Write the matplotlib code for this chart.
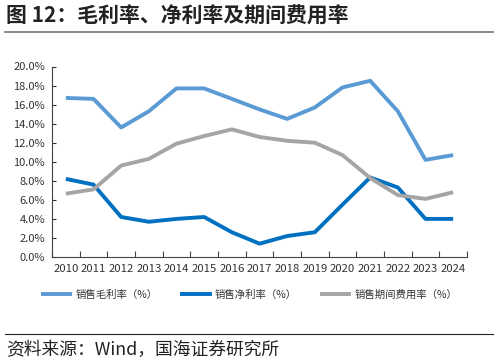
import numpy as np
import matplotlib
matplotlib.use("Agg")
import matplotlib.pyplot as plt
from matplotlib.ticker import FuncFormatter, FixedLocator

plt.rcParams['font.family'] = ['Noto Sans CJK SC', 'DejaVu Sans']

years = [str(y) for y in range(2010, 2025)]
gross_margin = [16.7, 16.6, 13.6, 15.3, 17.7, 17.7, 16.6, 15.5, 14.5, 15.7, 17.8, 18.5, 15.3, 10.2, 10.7]
net_margin = [8.2, 7.6, 4.2, 3.7, 4.0, 4.2, 2.6, 1.4, 2.2, 2.6, 5.5, 8.35, 7.3, 4.0, 4.0]
expense_ratio = [6.65, 7.1, 9.6, 10.3, 11.9, 12.7, 13.4, 12.6, 12.2, 12.0, 10.7, 8.3, 6.5, 6.1, 6.8]
labels = ["销售毛利率（%）", "销售净利率（%）", "销售期间费用率（%）"]
colors = ["#5B9BD5", "#0070C0", "#A5A5A5"]

fig = plt.figure(figsize=(4.98, 3.62), dpi=100)
ax = fig.add_axes([52/498, 1 - 257/362, (467 - 52)/498, (257 - 66.5)/362])

x = np.arange(len(years))
for vals, lab, c in zip([gross_margin, net_margin, expense_ratio], labels, colors):
    ax.plot(x, vals, color=c, lw=2.8, label=lab, solid_capstyle='butt')

ax.set_xlim(-0.5, len(years) - 0.5)
ax.set_ylim(0, 20)
ax.set_yticks(np.arange(0, 20.1, 2))
ax.yaxis.set_major_formatter(FuncFormatter(lambda v, p: f"{v:.1f}%"))
ax.set_xticks(x)
ax.set_xticklabels(years)
ax.xaxis.set_minor_locator(FixedLocator(np.arange(-0.5, len(years), 1)))
ax.tick_params(axis='x', which='major', length=0, labelsize=8.2, pad=5, colors='#333333')
ax.tick_params(axis='x', which='minor', length=4, width=0.8, direction='in', color='#444444')
ax.tick_params(axis='y', length=3, width=0.8, direction='in', labelsize=8.0, colors='#333333', pad=5)
for s in ['top', 'right']:
    ax.spines[s].set_visible(False)
for s in ['left', 'bottom']:
    ax.spines[s].set_color('#444444')
    ax.spines[s].set_linewidth(0.8)

fig.legend(loc='center', bbox_to_anchor=(0.5, 1 - 295/362), ncol=3, frameon=False,
           fontsize=7.5, handlelength=3.0, columnspacing=2.2, handletextpad=0.3,
           labelcolor='#333333')

fig.text(0.012, 1 - 16/362, "图 12：毛利率、净利率及期间费用率", fontsize=15, fontweight='bold',
         va='center', ha='left', color='#222222')
fig.add_artist(plt.Line2D([5/498, 493/498], [1 - 32/362, 1 - 32/362], color='#777777', lw=1.2))
fig.add_artist(plt.Line2D([5/498, 493/498], [1 - 334/362, 1 - 334/362], color='#222222', lw=0.8))
fig.text(0.012, 1 - 350/362, "资料来源：Wind，国海证券研究所", fontsize=12.8, va='center', ha='left',
         color='#222222')

fig.savefig("out.png", dpi=100)
